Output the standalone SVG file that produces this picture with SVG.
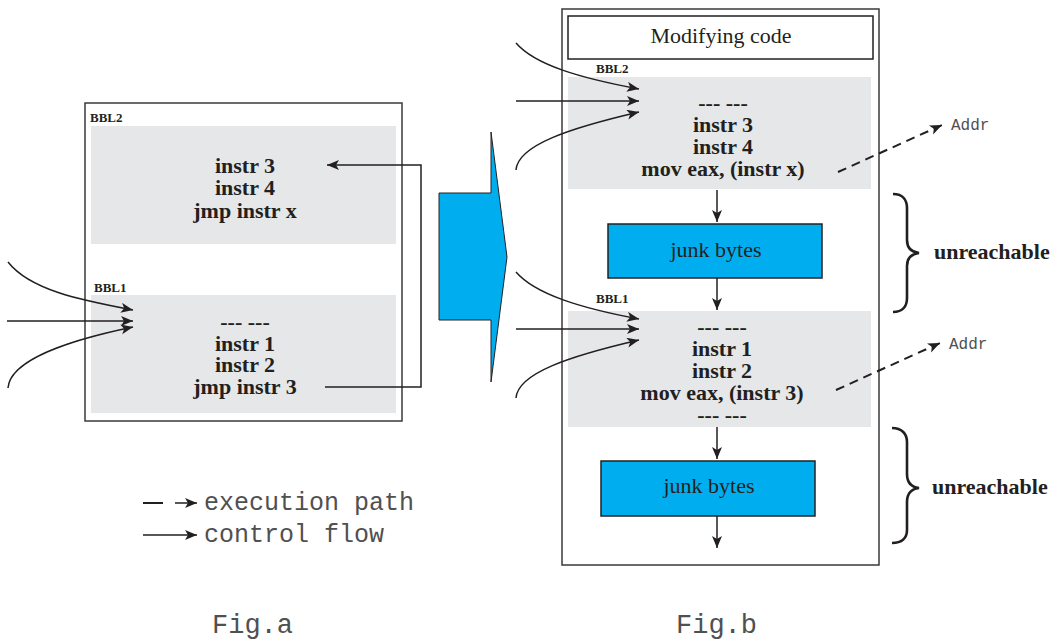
<svg xmlns="http://www.w3.org/2000/svg" width="1052" height="639" viewBox="0 0 1052 639">
  <style>
    .frame { fill: #ffffff; stroke: #3a3a3a; stroke-width: 1.5; }
    .bbl { fill: #e6e7e8; stroke: none; }
    .junk { fill: #00aeef; stroke: #222222; stroke-width: 1.5; }
    .code { font-family: "Liberation Serif", "Times New Roman", serif; font-weight: bold; font-size: 22px; fill: #231f20; text-anchor: middle; }
    .plain { font-family: "Liberation Serif", "Times New Roman", serif; font-size: 22px; fill: #231f20; text-anchor: middle; }
    .tag { font-family: "Liberation Serif", "Times New Roman", serif; font-weight: bold; font-size: 13px; fill: #231f20; }
    .mono { font-family: "Liberation Mono", "Courier New", monospace; fill: #505050; }
    .flow { fill: none; stroke: #231f20; stroke-width: 1.5; marker-end: url(#head); }
    .exec { fill: none; stroke: #231f20; stroke-width: 2; stroke-dasharray: 9 6; marker-end: url(#head); }
    .brace { fill: none; stroke: #231f20; stroke-width: 2.6; }
  </style>
  <defs>
    <marker id="head" markerUnits="userSpaceOnUse" markerWidth="14" markerHeight="12" refX="12" refY="5" orient="auto">
      <path d="M0,0 L12,5 L0,10 L3,5 z" fill="#231f20"/>
    </marker>
  </defs>

  <!-- Fig.a: original layout -->
  <g id="fig-a-frame">
    <rect class="frame" x="85" y="103" width="317" height="318"/>
  </g>
  <g id="fig-a-bbl2">
    <text class="tag" x="90" y="122">BBL2</text>
    <rect class="bbl" x="91" y="126" width="305" height="118"/>
    <text class="code" x="245" y="173">instr 3</text>
    <text class="code" x="245" y="195">instr 4</text>
    <text class="code" x="245" y="218">jmp instr x</text>
  </g>
  <g id="fig-a-bbl1">
    <text class="tag" x="94" y="292">BBL1</text>
    <rect class="bbl" x="91" y="295" width="305" height="118"/>
    <text class="code" x="245" y="329">--- ---</text>
    <text class="code" x="245" y="351">instr 1</text>
    <text class="code" x="245" y="372">instr 2</text>
    <text class="code" x="245" y="394">jmp instr 3</text>
  </g>

  <!-- transformation arrow -->
  <g id="transform-arrow">
    <path d="M439,193 L491,193 L491,132 L507,257 L491,382 L491,320 L439,320 Z" fill="#00aeef" stroke="#222222" stroke-width="1"/>
  </g>

  <!-- Fig.b: obfuscated layout -->
  <g id="fig-b-frame">
    <rect class="frame" x="562" y="9" width="317" height="556"/>
  </g>
  <g id="modifying-code">
    <rect x="568" y="16" width="305" height="43" fill="#ffffff" stroke="#231f20" stroke-width="1.5"/>
    <text class="plain" x="721" y="43">Modifying code</text>
  </g>
  <g id="fig-b-bbl2">
    <text class="tag" x="596" y="73">BBL2</text>
    <rect class="bbl" x="568" y="77" width="303" height="112"/>
    <text class="code" x="723" y="110">--- ---</text>
    <text class="code" x="723" y="132">instr 3</text>
    <text class="code" x="723" y="154">instr 4</text>
    <text class="code" x="723" y="176">mov eax, (instr x)</text>
  </g>
  <g id="junk-1">
    <rect class="junk" x="608" y="224" width="214" height="54"/>
    <text class="plain" x="716" y="257">junk bytes</text>
  </g>
  <g id="fig-b-bbl1">
    <text class="tag" x="596" y="303">BBL1</text>
    <rect class="bbl" x="568" y="311" width="303" height="116"/>
    <text class="code" x="722" y="334">--- ---</text>
    <text class="code" x="722" y="356">instr 1</text>
    <text class="code" x="722" y="378">instr 2</text>
    <text class="code" x="722" y="400">mov eax, (instr 3)</text>
    <text class="code" x="722" y="422">--- ---</text>
  </g>
  <g id="junk-2">
    <rect class="junk" x="601" y="461" width="214" height="55"/>
    <text class="plain" x="709" y="493">junk bytes</text>
  </g>
  <g id="addr-1">
    <text class="mono" x="951" y="130" font-size="16">Addr</text>
  </g>
  <g id="addr-2">
    <text class="mono" x="949" y="349" font-size="16">Addr</text>
  </g>
  <g id="unreachable-1">
    <path class="brace" d="M893,194 C903,194 907,200 907,208 L907,240 C907,248 911,252 919,253 C911,254 907,258 907,266 L907,298 C907,306 903,312 893,312"/>
    <text class="code" x="934" y="259" style="text-anchor:start">unreachable</text>
  </g>
  <g id="unreachable-2">
    <path class="brace" d="M892,428 C902,428 907,434 907,442 L907,474 C907,482 911,487 919,488 C911,489 907,494 907,502 L907,530 C907,538 902,543 892,543"/>
    <text class="code" x="932" y="494" style="text-anchor:start">unreachable</text>
  </g>

  <!-- legend -->
  <g id="legend">
    <line x1="143" y1="503" x2="163" y2="503" stroke="#231f20" stroke-width="2"/>
    <line class="flow" x1="175" y1="503" x2="197" y2="503" stroke-width="2"/>
    <text class="mono" x="204" y="510" font-size="25">execution path</text>
    <line class="flow" x1="143" y1="535" x2="197" y2="535"/>
    <text class="mono" x="204" y="542" font-size="25">control flow</text>
  </g>

  <!-- captions -->
  <g id="captions">
    <text class="mono" x="212" y="633" font-size="27">Fig.a</text>
    <text class="mono" x="676" y="633" font-size="27">Fig.b</text>
  </g>

  <!-- connectors -->
  <g id="connectors">
    <!-- Fig.a incoming edges into BBL1 -->
    <path class="flow" d="M8,262 C30,290 80,300 133,310"/>
    <path class="flow" d="M7,321 L133,321"/>
    <path class="flow" d="M8,388 C10,360 70,340 133,327"/>
    <!-- Fig.a jump from BBL1 back to instr 3 -->
    <path class="flow" d="M325,387 L421,387 L421,165 L327,165"/>

    <!-- Fig.b incoming edges into BBL2 -->
    <path class="flow" d="M516,43 C535,65 580,78 639,89"/>
    <path class="flow" d="M516,101 L639,101"/>
    <path class="flow" d="M516,170 C518,145 570,128 639,112"/>
    <!-- Fig.b incoming edges into BBL1 -->
    <path class="flow" d="M516,272 C535,294 580,308 639,319"/>
    <path class="flow" d="M516,329 L639,329"/>
    <path class="flow" d="M516,398 C518,373 570,356 639,340"/>

    <!-- Fig.b sequential flow -->
    <line class="flow" x1="717" y1="190" x2="717" y2="222"/>
    <line class="flow" x1="717" y1="278" x2="717" y2="310"/>
    <line class="flow" x1="717" y1="427" x2="717" y2="459"/>
    <line class="flow" x1="717" y1="516" x2="717" y2="548"/>

    <!-- execution path to patched addresses -->
    <path class="exec" d="M838,172 L942,125"/>
    <path class="exec" d="M836,390 L940,343"/>
  </g>
</svg>
